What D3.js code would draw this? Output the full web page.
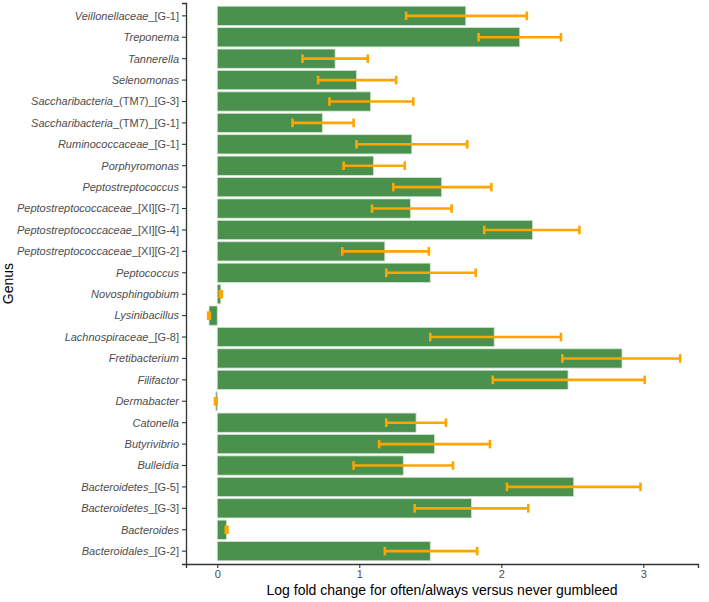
<!DOCTYPE html>
<html>
<head>
<meta charset="utf-8">
<script src="https://cdn.jsdelivr.net/npm/d3@7"></script>
<style>
  body { margin: 0; background: #fff; }
  text { font-family: "Liberation Sans", Arial, sans-serif; }
</style>
</head>
<body>
<div id="chart"></div>
<script>
// genus name (italic part) and suffix (upright part), top to bottom
var genusNames = [
  'Veillonellaceae', 'Treponema', 'Tannerella', 'Selenomonas',
  'Saccharibacteria', 'Saccharibacteria', 'Ruminococcaceae', 'Porphyromonas',
  'Peptostreptococcus', 'Peptostreptococcaceae', 'Peptostreptococcaceae', 'Peptostreptococcaceae',
  'Peptococcus', 'Novosphingobium', 'Lysinibacillus', 'Lachnospiraceae',
  'Fretibacterium', 'Filifactor', 'Dermabacter', 'Catonella',
  'Butyrivibrio', 'Bulleidia', 'Bacteroidetes', 'Bacteroidetes',
  'Bacteroides', 'Bacteroidales'
];
var genusSuffix = [
  '_[G-1]', '', '', '',
  '_(TM7)_[G-3]', '_(TM7)_[G-1]', '_[G-1]', '',
  '', '_[XI][G-7]', '_[XI][G-4]', '_[XI][G-2]',
  '', '', '', '_[G-8]',
  '', '', '', '',
  '', '', '_[G-5]', '_[G-3]',
  '', '_[G-2]'
];
var logFold = [
  1.75, 2.13, 0.83, 0.98,
  1.08, 0.74, 1.37, 1.10,
  1.58, 1.36, 2.22, 1.18,
  1.50, 0.025, -0.058, 1.95,
  2.85, 2.47, -0.01, 1.40,
  1.53, 1.31, 2.51, 1.79,
  0.065, 1.50
];
var errLow = [
  1.33, 1.84, 0.60, 0.71,
  0.79, 0.53, 0.98, 0.89,
  1.24, 1.09, 1.88, 0.88,
  1.19, 0.018, -0.064, 1.50,
  2.43, 1.94, -0.016, 1.19,
  1.14, 0.96, 2.04, 1.39,
  0.06, 1.18
];
var errHigh = [
  2.18, 2.42, 1.06, 1.26,
  1.38, 0.96, 1.76, 1.32,
  1.93, 1.65, 2.55, 1.49,
  1.82, 0.032, -0.052, 2.42,
  3.26, 3.01, -0.004, 1.61,
  1.92, 1.66, 2.98, 2.19,
  0.072, 1.83
];
var xTicks = [0, 1, 2, 3];

var width = 709, height = 602;
var margin = {top: 3, right: 11, bottom: 38, left: 186};

var svg = d3.select('#chart').append('svg')
  .attr('width', width)
  .attr('height', height);

var rows = genusNames.map(function (d, i) {
  return {
    id: i,
    name: d,
    suffix: genusSuffix[i],
    value: logFold[i],
    lo: errLow[i],
    hi: errHigh[i]
  };
});

var x = d3.scaleLinear()
  .domain([-0.22, 3.385])
  .range([margin.left, width - margin.right]);

var y = d3.scaleBand()
  .domain(rows.map(function (d) { return d.id; }))
  .range([margin.top, height - margin.bottom])
  .paddingInner(0.1)
  .paddingOuter(0.15);

// bars
svg.append('g').selectAll('rect')
  .data(rows)
  .enter().append('rect')
  .attr('x', function (d) { return x(Math.min(0, d.value)); })
  .attr('y', function (d) { return y(d.id); })
  .attr('width', function (d) { return Math.abs(x(d.value) - x(0)); })
  .attr('height', y.bandwidth())
  .attr('fill', '#4a914d')
  .attr('stroke', '#d4e4d4')
  .attr('stroke-width', 0.8);

// error bars
var capH = y.step() * 0.4;
var eb = svg.append('g').selectAll('g')
  .data(rows)
  .enter().append('g')
  .attr('stroke', '#ffa500')
  .attr('stroke-width', 2.6);

eb.append('line')
  .attr('x1', function (d) { return x(d.lo); })
  .attr('x2', function (d) { return x(d.hi); })
  .attr('y1', function (d) { return y(d.id) + y.bandwidth() / 2; })
  .attr('y2', function (d) { return y(d.id) + y.bandwidth() / 2; });

eb.selectAll('.cap')
  .data(function (d) { return [d.lo, d.hi].map(function (v) { return {v: v, row: d}; }); })
  .enter().append('line')
  .attr('class', 'cap')
  .attr('x1', function (c) { return x(c.v); })
  .attr('x2', function (c) { return x(c.v); })
  .attr('y1', function (c) { return y(c.row.id) + y.bandwidth() / 2 - capH / 2; })
  .attr('y2', function (c) { return y(c.row.id) + y.bandwidth() / 2 + capH / 2; });

// x axis
var xAxis = svg.append('g')
  .attr('transform', 'translate(0,' + (height - margin.bottom) + ')')
  .call(d3.axisBottom(x).tickValues(xTicks).tickSize(4).tickPadding(2).tickFormat(d3.format('d')));
xAxis.select('.domain').attr('stroke', '#333').attr('stroke-width', 1.3);
xAxis.selectAll('.tick line').attr('stroke', '#333').attr('stroke-width', 1.1);
xAxis.selectAll('.tick text')
  .attr('fill', '#4d4d4d')
  .style('font-size', '11px')
  .style('font-family', '"Liberation Sans", Arial, sans-serif');

// y axis
var yAxis = svg.append('g')
  .attr('transform', 'translate(' + margin.left + ',0)')
  .call(d3.axisLeft(y).tickSize(4).tickPadding(3).tickFormat(''));
yAxis.select('.domain').attr('stroke', '#333').attr('stroke-width', 1.3);
yAxis.selectAll('.tick line').attr('stroke', '#333').attr('stroke-width', 1.1);

var labels = yAxis.selectAll('.tick text')
  .attr('fill', '#4d4d4d')
  .style('font-size', '11px')
  .style('font-family', '"Liberation Sans", Arial, sans-serif')
  .attr('dy', '0.35em');

labels.each(function (id) {
  var t = d3.select(this);
  var r = rows[id];
  t.text(null);
  t.append('tspan').style('font-style', 'italic').text(r.name);
  if (r.suffix) t.append('tspan').text(r.suffix);
});

// axis titles
svg.append('text')
  .attr('x', (margin.left + width - margin.right) / 2)
  .attr('y', height - 7)
  .attr('text-anchor', 'middle')
  .style('font-size', '14px')
  .attr('fill', '#000')
  .text('Log fold change for often/always versus never gumbleed');

svg.append('text')
  .attr('transform', 'translate(13,' + ((margin.top + height - margin.bottom) / 2) + ') rotate(-90)')
  .attr('text-anchor', 'middle')
  .style('font-size', '14px')
  .attr('fill', '#000')
  .text('Genus');
</script>
</body>
</html>
